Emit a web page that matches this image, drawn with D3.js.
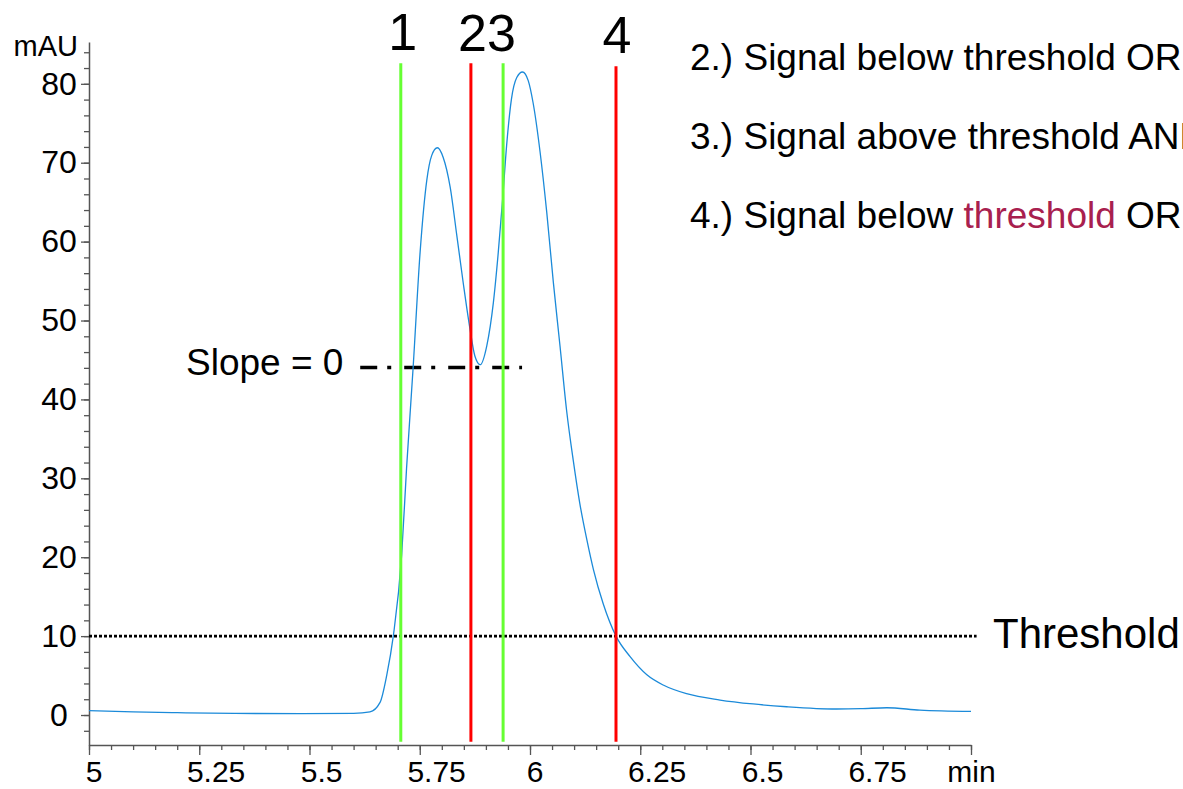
<!DOCTYPE html>
<html>
<head>
<meta charset="utf-8">
<script src="https://cdn.jsdelivr.net/npm/d3@7"></script>
<style>
  html, body { margin: 0; padding: 0; background: #fff; overflow: hidden; }
  svg { display: block; }
  text { font-family: "Liberation Sans", Arial, Helvetica, sans-serif; fill: #000; }
</style>
</head>
<body>
<svg id="chart" width="1183" height="789"></svg>
<script>
// ---------------- DATA ----------------
const time = [5.000, 5.100, 5.200, 5.330, 5.480, 5.600, 5.637, 5.660, 5.675, 5.690, 5.709, 5.720, 5.735, 5.751, 5.766, 5.777, 5.790, 5.803, 5.819, 5.834, 5.849, 5.864, 5.875, 5.887, 5.902, 5.917, 5.928, 5.938, 5.947, 5.958, 5.970, 5.983, 5.996, 6.007, 6.023, 6.038, 6.053, 6.068, 6.083, 6.098, 6.113, 6.129, 6.144, 6.166, 6.195, 6.227, 6.265, 6.302, 6.355, 6.431, 6.506, 6.582, 6.695, 6.750, 6.809, 6.884, 7.000];
const signal = [0.55, 0.40, 0.30, 0.20, 0.17, 0.22, 0.40, 1.6, 5.0, 10.0, 20.3, 31.2, 44.05, 58.8, 67.8, 70.9, 71.9, 70.7, 66.9, 60.8, 54.6, 48.9, 45.5, 44.4, 46.8, 52.3, 58.6, 65.4, 72.2, 78.1, 80.8, 81.5, 80.4, 77.6, 71.3, 63.7, 54.8, 46.8, 38.6, 32.3, 26.8, 22.2, 18.4, 14.1, 10.0, 7.4, 5.1, 3.8, 2.7, 1.9, 1.4, 1.05, 0.76, 0.80, 0.92, 0.63, 0.47];

const markerLabels = ["1", "2", "3", "4"];
const markerTimes = [5.707, 5.866, 5.939, 6.195];
const markerKinds = ["start", "end", "start", "end"];
const markerRange = [-3.4, 82.6];

const thresholdValue = 10;
const thresholdRange = [5.0, 6.99];
const slopeValue = 44.05;
const slopeRange = [5.615, 5.982];

const xMajorTicks = [5, 5.25, 5.5, 5.75, 6, 6.25, 6.5, 6.75, 7];
const xTickLabels = ["5", "5.25", "5.5", "5.75", "6", "6.25", "6.5", "6.75", "min"];
const yMajorTicks = [0, 10, 20, 30, 40, 50, 60, 70, 80];

const legendParts = [
  [{t: "2.) Signal below threshold OR", hl: false}],
  [{t: "3.) Signal above threshold AND", hl: false}],
  [{t: "4.) Signal below ", hl: false}, {t: "threshold", hl: true}, {t: " OR", hl: false}]
];

// ---------------- CHART ----------------
const svg = d3.select("#chart");
const x = d3.scaleLinear().domain([5, 7]).range([89, 971]);
const y = d3.scaleLinear().domain([-3.8, 85.3]).range([745, 42]);

const axisColor = "#555";

// minor y ticks
svg.append("g").attr("transform", "translate(89,0)")
  .call(d3.axisLeft(y).tickValues(d3.range(-2, 85, 2)).tickSize(5).tickSizeOuter(0).tickFormat(""))
  .call(g => g.selectAll("line").attr("stroke", axisColor).attr("stroke-width", 1.3))
  .call(g => g.select(".domain").attr("stroke", axisColor).attr("stroke-width", 1.5));
// major y ticks
svg.append("g").attr("transform", "translate(89,0)")
  .call(d3.axisLeft(y).tickValues(yMajorTicks).tickSize(8).tickSizeOuter(0).tickFormat(d3.format("d")))
  .call(g => g.select(".domain").remove())
  .call(g => g.selectAll("line").attr("stroke", axisColor).attr("stroke-width", 1.3))
  .call(g => g.selectAll("text").attr("x", -30).attr("text-anchor", "middle")
      .attr("font-size", 32).attr("font-family", "Liberation Sans, Arial, sans-serif").attr("fill", "#000"));

svg.append("text").attr("x", 78).attr("y", 56).attr("text-anchor", "end")
  .attr("font-size", 29).text("mAU");

// minor x ticks
svg.append("g").attr("transform", "translate(0,745)")
  .call(d3.axisBottom(x).tickValues(d3.range(0, 41).map(i => 5 + i * 0.05)).tickSize(5).tickSizeOuter(0).tickFormat(""))
  .call(g => g.selectAll("line").attr("stroke", axisColor).attr("stroke-width", 1.3))
  .call(g => g.select(".domain").attr("stroke", axisColor).attr("stroke-width", 1.5));
// major x ticks
const xg = svg.append("g").attr("transform", "translate(0,745)")
  .call(d3.axisBottom(x).tickValues(xMajorTicks).tickSize(10).tickSizeOuter(0)
      .tickFormat((d, i) => xTickLabels[i]))
  .call(g => g.select(".domain").remove())
  .call(g => g.selectAll("line").attr("stroke", axisColor).attr("stroke-width", 1.3));
xg.selectAll("text")
  .attr("font-size", 30).attr("font-family", "Liberation Sans, Arial, sans-serif").attr("fill", "#000")
  .attr("y", 37).attr("dy", 0)
  .each(function(d, i) {
    const t = d3.select(this);
    if (xTickLabels[i] === "min") { t.attr("text-anchor", "middle").attr("x", 0); return; }
    const w = this.getComputedTextLength();
    t.attr("text-anchor", "start").attr("x", -0.22 * w);
  });

// threshold line
svg.append("line")
  .attr("x1", x(thresholdRange[0])).attr("x2", x(thresholdRange[1]) + 10)
  .attr("y1", y(thresholdValue)).attr("y2", y(thresholdValue))
  .attr("stroke", "#000").attr("stroke-width", 2.6).attr("stroke-dasharray", "3,2");
svg.append("text").attr("x", 993).attr("y", 648).attr("font-size", 42).text("Threshold");

// slope line
svg.append("line")
  .attr("x1", x(slopeRange[0])).attr("x2", x(slopeRange[1]))
  .attr("y1", y(slopeValue)).attr("y2", y(slopeValue))
  .attr("stroke", "#000").attr("stroke-width", 3.4).attr("stroke-dasharray", "17,10,4,13");
svg.append("text").attr("x", 186).attr("y", 375).attr("font-size", 37).text("Slope = 0");

// signal curve
const line = d3.line().x((d, i) => x(time[i])).y(d => y(d)).curve(d3.curveMonotoneX);
svg.append("path").datum(signal)
  .attr("d", line).attr("fill", "none").attr("stroke", "#1b8ad9").attr("stroke-width", 1.3);

// marker lines
svg.append("g").selectAll("line").data(markerTimes).join("line")
  .attr("x1", d => x(d)).attr("x2", d => x(d))
  .attr("y1", y(markerRange[0])).attr("y2", (d, i) => y(markerRange[1]) + (i === 3 ? 3 : 0))
  .attr("stroke", (d, i) => markerKinds[i] === "start" ? "#66ff33" : "#ff0000")
  .attr("stroke-width", 3);

// marker numbers
svg.append("text").attr("x", x(markerTimes[0]) + 2).attr("y", 50).attr("text-anchor", "middle")
  .attr("font-size", 52).text(markerLabels[0]);
svg.append("text").attr("x", (x(markerTimes[1]) + x(markerTimes[2])) / 2).attr("y", 51).attr("text-anchor", "middle")
  .attr("font-size", 52).text(markerLabels[1] + markerLabels[2]);
svg.append("text").attr("x", x(markerTimes[3]) + 1).attr("y", 53).attr("text-anchor", "middle")
  .attr("font-size", 52).text(markerLabels[3]);

// legend
legendParts.forEach((parts, i) => {
  const t = svg.append("text").attr("x", 690).attr("y", 70 + i * 79).attr("font-size", 37)
    .attr("xml:space", "preserve").style("white-space", "pre");
  parts.forEach(p => {
    t.append("tspan").text(p.t).attr("fill", p.hl ? "#a8204e" : "#000");
  });
});
</script>
</body>
</html>
